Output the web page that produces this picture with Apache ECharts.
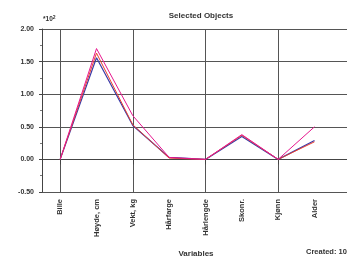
<!DOCTYPE html>
<html>
<head>
<meta charset="utf-8">
<script src="https://cdn.jsdelivr.net/npm/echarts@6/dist/echarts.min.js"></script>
<style>
html,body{margin:0;padding:0;background:#fff;}
#chart{width:347px;height:260px;}
</style>
</head>
<body>
<div id="chart"></div>
<script>
// categories (the last one is an empty slot, the plot runs past the right edge)
var variables = ['Bille', 'Høyde, cm', 'Vekt, kg', 'Hårfarge', 'Hårlengde', 'Skonr.', 'Kjønn', 'Alder', ''];
// values in units of 10^2
var blue_v = [0, 1.56, 0.52, 0.03, 0, 0.35, 0, 0.29];
var red_v = [0, 1.63, 0.53, 0.02, 0, 0.37, 0, 0.27];
var pink_v = [0, 1.70, 0.67, 0.03, 0, 0.38, 0, 0.50];

var font = 'Liberation Sans, Arial, sans-serif';
var chart = echarts.init(document.getElementById('chart'));
var option = {
    animation: false,
    title: {
        text: 'Selected Objects',
        left: 196,
        top: 7,
        textAlign: 'center',
        textStyle: {fontSize: 8, fontWeight: 'bold', color: '#333', fontFamily: font}
    },
    grid: {left: 42, top: 29, height: 163, width: 327, containLabel: false, outerBoundsMode: 'none'},
    xAxis: {
        type: 'category',
        data: variables,
        boundaryGap: true,
        axisLine: {lineStyle: {color: '#444', width: 1}},
        axisTick: {show: true, alignWithLabel: true, interval: 1, length: 5, lineStyle: {color: '#444'}},
        axisLabel: {rotate: 90, interval: 0, fontSize: 7.5, fontWeight: 'bold', color: '#333', fontFamily: font, margin: 7},
        splitLine: {show: true, interval: 1, alignWithLabel: true, lineStyle: {color: '#555', width: 1}}
    },
    yAxis: {
        type: 'value',
        min: -0.5,
        max: 2,
        interval: 0.5,
        axisLine: {show: true, lineStyle: {color: '#444'}},
        axisTick: {show: true, length: 3, lineStyle: {color: '#444'}},
        minorTick: {show: true, splitNumber: 2, length: 2, lineStyle: {color: '#777'}},
        axisLabel: {
            fontSize: 7, fontWeight: 'bold', color: '#333', fontFamily: font, margin: 8,
            formatter: function (v) { return v.toFixed(2); }
        },
        splitLine: {show: true, lineStyle: {color: '#555', width: 1}}
    },
    series: [
        {name: 'blue', type: 'line', data: blue_v, symbol: 'none', lineStyle: {color: '#3a3aa8', width: 1.2}},
        {name: 'red', type: 'line', data: red_v, symbol: 'none', lineStyle: {color: '#e8402f', width: 1}},
        {name: 'pink', type: 'line', data: pink_v, symbol: 'none', lineStyle: {color: '#e6168e', width: 1}}
    ],
    graphic: [
        {
            type: 'text', left: 43, top: 15,
            style: {
                text: '*10{s|2}',
                rich: {s: {fontSize: 5, fontWeight: 'bold', verticalAlign: 'top', padding: [0, 0, 4, 0]}},
                fontSize: 6.5, fontWeight: 'bold', fill: '#333', fontFamily: font
            }
        },
        {
            type: 'text', x: 196, y: 254,
            style: {text: 'Variables', align: 'center', verticalAlign: 'middle', fontSize: 8, fontWeight: 'bold', fill: '#333', fontFamily: font}
        },
        {
            type: 'text', x: 306, y: 252,
            style: {text: 'Created: 10', verticalAlign: 'middle', fontSize: 7.5, fontWeight: 'bold', fill: '#333', fontFamily: font}
        }
    ]
};
chart.setOption(option);
</script>
</body>
</html>
